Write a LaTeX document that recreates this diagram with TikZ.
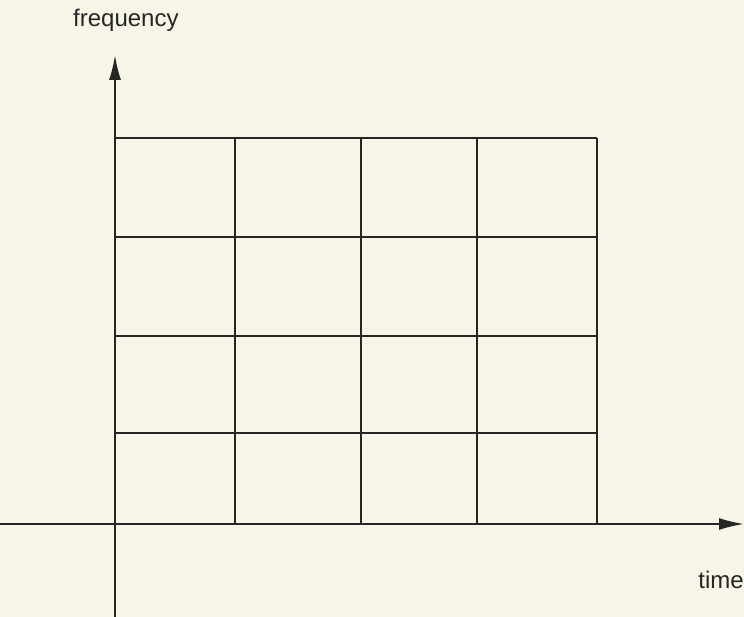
\documentclass[tikz,border=0pt]{standalone}
\usepackage{fontspec}
\setmainfont{Liberation Sans}
\usetikzlibrary{arrows.meta}
\definecolor{bgcol}{RGB}{246,245,232}
\definecolor{inkcol}{RGB}{38,38,36}
\tikzset{
  axisline/.style={draw=inkcol, line width=2pt, -{Latex[length=25pt,width=12pt]}},
  gridline/.style={draw=inkcol, line width=2pt},
  axislabel/.style={text=inkcol, font=\fontsize{24}{28}\selectfont, inner sep=0pt}
}
\begin{document}
\begin{tikzpicture}[x=1pt,y=-1pt]
  \fill[bgcol] (0,0) rectangle (744,617);
  \useasboundingbox (0,0) rectangle (744,617);
  % grid
  \foreach \xx in {235,361,477,597} {
    \draw[gridline] (\xx,138) -- (\xx,524);
  }
  \foreach \yy in {138,237,336,433} {
    \draw[gridline] (115,\yy) -- (597,\yy);
  }
  % axes
  \coordinate (vbot) at (115,617);
  \coordinate (vtop) at (115,55);
  \coordinate (hleft) at (0,524);
  \coordinate (hright) at (744,524);
  \draw[axisline] (vbot) -- (vtop);
  \draw[axisline] (hleft) -- (hright);
  \node[axislabel, anchor=base west] (freq) at (73,27) {frequency};
  \node[axislabel, anchor=base east] (time) at (744,588) {time};
\end{tikzpicture}
\end{document}
